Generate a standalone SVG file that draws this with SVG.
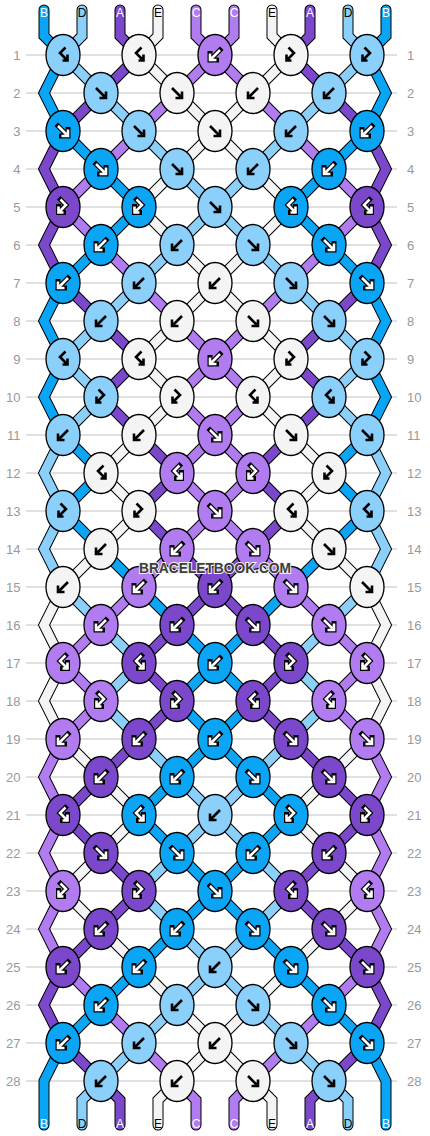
<svg xmlns="http://www.w3.org/2000/svg" xmlns:xlink="http://www.w3.org/1999/xlink" width="430" height="1136" viewBox="0 0 430 1136">
<style>
.ln{stroke:#c2c2c2;stroke-width:1}
.num{font-family:"Liberation Sans",Arial,sans-serif;font-size:13px;fill:#999}
.nl{text-anchor:end}
.lb{font-family:"Liberation Sans",Arial,sans-serif;font-size:12px;text-anchor:middle}
.lw{fill:#fff}.lk{fill:#000}
.o{fill:none;stroke:#000;stroke-width:11;stroke-linecap:round;stroke-linejoin:miter}
.c{fill:none;stroke-width:9;stroke-linecap:round;stroke-linejoin:miter}
.cB{stroke:#0aa5f5}.cD{stroke:#8bd0fa}.cA{stroke:#7b48cc}.cE{stroke:#f4f4f4}.cC{stroke:#b07cf0}
ellipse{stroke:#000;stroke-width:1.3}
.fB{fill:#0aa5f5}.fD{fill:#8bd0fa}.fA{fill:#7b48cc}.fE{fill:#f4f4f4}.fC{fill:#b07cf0}
.ab{fill:none;stroke:#000;stroke-width:2.6}
.ao{fill:none;stroke:#000;stroke-width:5;stroke-linecap:square}
.aw{fill:none;stroke:#fff;stroke-width:2.6}
.wm{font-family:"Liberation Sans",Arial,sans-serif;font-weight:bold;font-size:14px;fill:#3d3d3d;stroke:#f2f2f2;stroke-width:2;paint-order:stroke;text-anchor:middle}
</style>
<defs>
<path id="pF" d="M-5,-5L3.5,3.5M-1.5,5H5V-1.5"/>
<path id="pB" d="M5,-5L-3.5,3.5M1.5,5H-5V-1.5"/>
<path id="pFB" d="M-2.5,-7.5L3,-2L-3.5,4.5M-4.5,-0.5V5.5H0.5"/>
<path id="pBF" d="M2.5,-7.5L-3,-2L3.5,4.5M4.5,-0.5V5.5H-0.5"/>
<g id="bF" class="ab"><use href="#pF"/></g>
<g id="bB" class="ab"><use href="#pB"/></g>
<g id="bFB" class="ab"><use href="#pFB"/></g>
<g id="bBF" class="ab"><use href="#pBF"/></g>
<g id="wF"><use href="#pF" class="ao"/><use href="#pF" class="aw"/></g>
<g id="wB"><use href="#pB" class="ao"/><use href="#pB" class="aw"/></g>
<g id="wFB"><use href="#pFB" class="ao"/><use href="#pFB" class="aw"/></g>
<g id="wBF"><use href="#pBF" class="ao"/><use href="#pBF" class="aw"/></g>
<path id="s0" d="M44,10V36L63,55L44,93L63,131L101,169L139,207L101,245L63,283L44,321L63,359L44,397L63,435L101,473L63,511L101,549L139,587L177,625L215,663L253,701L215,739L177,777L139,815L177,853L215,891L253,929L291,967L329,1005L367,1043L386,1081V1125"/>
<path id="s9" d="M386,10V36L367,55L386,93L367,131L329,169L291,207L329,245L367,283L386,321L367,359L386,397L367,435L329,473L367,511L329,549L291,587L253,625L215,663L177,701L215,739L253,777L291,815L253,853L215,891L177,929L139,967L101,1005L63,1043L44,1081V1125"/>
<path id="s1" d="M82,10V36L63,55L101,93L139,131L177,169L215,207L253,245L291,283L329,321L367,359L329,397L367,435L386,473L367,511L386,549L367,587L329,625L291,663L329,701L291,739L253,777L215,815L177,853L139,891L177,929L215,967L253,1005L291,1043L329,1081L348,1100V1125"/>
<path id="s8" d="M348,10V36L367,55L329,93L291,131L253,169L215,207L177,245L139,283L101,321L63,359L101,397L63,435L44,473L63,511L44,549L63,587L101,625L139,663L101,701L139,739L177,777L215,815L253,853L291,891L253,929L215,967L177,1005L139,1043L101,1081L82,1100V1125"/>
<path id="s2" d="M120,10V36L139,55L101,93L63,131L44,169L63,207L44,245L63,283L101,321L139,359L101,397L139,435L177,473L139,511L177,549L215,587L253,625L291,663L253,701L291,739L329,777L367,815L329,853L291,891L329,929L367,967L386,1005L367,1043L329,1081L310,1100V1125"/>
<path id="s7" d="M310,10V36L291,55L329,93L367,131L386,169L367,207L386,245L367,283L329,321L291,359L329,397L291,435L253,473L291,511L253,549L215,587L177,625L139,663L177,701L139,739L101,777L63,815L101,853L139,891L101,929L63,967L44,1005L63,1043L101,1081L120,1100V1125"/>
<path id="s3" d="M158,10V36L139,55L177,93L215,131L253,169L291,207L253,245L215,283L177,321L139,359L177,397L139,435L101,473L139,511L101,549L63,587L44,625L63,663L44,701L63,739L101,777L139,815L101,853L63,891L101,929L139,967L177,1005L215,1043L253,1081L272,1100V1125"/>
<path id="s6" d="M272,10V36L291,55L253,93L215,131L177,169L139,207L177,245L215,283L253,321L291,359L253,397L291,435L329,473L291,511L329,549L367,587L386,625L367,663L386,701L367,739L329,777L291,815L329,853L367,891L329,929L291,967L253,1005L215,1043L177,1081L158,1100V1125"/>
<path id="s4" d="M196,10V36L215,55L253,93L291,131L329,169L367,207L329,245L291,283L253,321L215,359L177,397L215,435L253,473L215,511L177,549L139,587L101,625L63,663L101,701L63,739L44,777L63,815L44,853L63,891L44,929L63,967L101,1005L139,1043L177,1081L196,1100V1125"/>
<path id="s5" d="M234,10V36L215,55L177,93L139,131L101,169L63,207L101,245L139,283L177,321L215,359L253,397L215,435L177,473L215,511L253,549L291,587L329,625L367,663L329,701L367,739L386,777L367,815L386,853L367,891L386,929L367,967L329,1005L291,1043L253,1081L234,1100V1125"/>
</defs>
<rect width="430" height="1136" fill="#fff"/>
<g id="rows">
<path class="ln" d="M26,55H397M26,93H397M26,131H397M26,169H397M26,207H397M26,245H397M26,283H397M26,321H397M26,359H397M26,397H397M26,435H397M26,473H397M26,511H397M26,549H397M26,587H397M26,625H397M26,663H397M26,701H397M26,739H397M26,777H397M26,815H397M26,853H397M26,891H397M26,929H397M26,967H397M26,1005H397M26,1043H397M26,1081H397"/>
<g class="num nl">
<text x="20.5" y="59.5">1</text><text x="20.5" y="97.5">2</text><text x="20.5" y="135.5">3</text><text x="20.5" y="173.5">4</text><text x="20.5" y="211.5">5</text><text x="20.5" y="249.5">6</text><text x="20.5" y="287.5">7</text><text x="20.5" y="325.5">8</text><text x="20.5" y="363.5">9</text><text x="20.5" y="401.5">10</text><text x="20.5" y="439.5">11</text><text x="20.5" y="477.5">12</text><text x="20.5" y="515.5">13</text><text x="20.5" y="553.5">14</text><text x="20.5" y="591.5">15</text><text x="20.5" y="629.5">16</text><text x="20.5" y="667.5">17</text><text x="20.5" y="705.5">18</text><text x="20.5" y="743.5">19</text><text x="20.5" y="781.5">20</text><text x="20.5" y="819.5">21</text><text x="20.5" y="857.5">22</text><text x="20.5" y="895.5">23</text><text x="20.5" y="933.5">24</text><text x="20.5" y="971.5">25</text><text x="20.5" y="1009.5">26</text><text x="20.5" y="1047.5">27</text><text x="20.5" y="1085.5">28</text>
</g>
<g class="num">
<text x="407" y="59.5">1</text><text x="407" y="97.5">2</text><text x="407" y="135.5">3</text><text x="407" y="173.5">4</text><text x="407" y="211.5">5</text><text x="407" y="249.5">6</text><text x="407" y="287.5">7</text><text x="407" y="325.5">8</text><text x="407" y="363.5">9</text><text x="407" y="401.5">10</text><text x="407" y="439.5">11</text><text x="407" y="477.5">12</text><text x="407" y="515.5">13</text><text x="407" y="553.5">14</text><text x="407" y="591.5">15</text><text x="407" y="629.5">16</text><text x="407" y="667.5">17</text><text x="407" y="705.5">18</text><text x="407" y="743.5">19</text><text x="407" y="781.5">20</text><text x="407" y="819.5">21</text><text x="407" y="857.5">22</text><text x="407" y="895.5">23</text><text x="407" y="933.5">24</text><text x="407" y="971.5">25</text><text x="407" y="1009.5">26</text><text x="407" y="1047.5">27</text><text x="407" y="1085.5">28</text>
</g>
</g>
<g id="connectors">
<use href="#s0" class="o"/><use href="#s1" class="o"/><use href="#s2" class="o"/><use href="#s3" class="o"/><use href="#s4" class="o"/><use href="#s5" class="o"/><use href="#s6" class="o"/><use href="#s7" class="o"/><use href="#s8" class="o"/><use href="#s9" class="o"/>
<use href="#s0" class="c cB"/><use href="#s9" class="c cB"/><use href="#s1" class="c cD"/><use href="#s8" class="c cD"/><use href="#s2" class="c cA"/><use href="#s7" class="c cA"/><use href="#s3" class="c cE"/><use href="#s6" class="c cE"/><use href="#s4" class="c cC"/><use href="#s5" class="c cC"/>
</g>
<g id="labels-top" class="lb">
<text x="44" y="16.6" class="lw">B</text><text x="82" y="16.6" class="lk">D</text><text x="120" y="16.6" class="lw">A</text><text x="158" y="16.6" class="lk">E</text><text x="196" y="16.6" class="lw">C</text><text x="234" y="16.6" class="lw">C</text><text x="272" y="16.6" class="lk">E</text><text x="310" y="16.6" class="lw">A</text><text x="348" y="16.6" class="lk">D</text><text x="386" y="16.6" class="lw">B</text>
</g>
<g id="labels-bottom" class="lb">
<text x="44" y="1128.3" class="lw">B</text><text x="82" y="1128.3" class="lk">D</text><text x="120" y="1128.3" class="lw">A</text><text x="158" y="1128.3" class="lk">E</text><text x="196" y="1128.3" class="lw">C</text><text x="234" y="1128.3" class="lw">C</text><text x="272" y="1128.3" class="lk">E</text><text x="310" y="1128.3" class="lw">A</text><text x="348" y="1128.3" class="lk">D</text><text x="386" y="1128.3" class="lw">B</text>
</g>
<g id="knots">
<g id="k1-1"><ellipse class="fD" cx="63" cy="55" rx="17" ry="20.5"/><use href="#bBF" x="63" y="55"/></g>
<g id="k1-2"><ellipse class="fE" cx="139" cy="55" rx="17" ry="20.5"/><use href="#bBF" x="139" y="55"/></g>
<g id="k1-3"><ellipse class="fC" cx="215" cy="55" rx="17" ry="20.5"/><use href="#wB" x="215" y="55"/></g>
<g id="k1-4"><ellipse class="fE" cx="291" cy="55" rx="17" ry="20.5"/><use href="#bFB" x="291" y="55"/></g>
<g id="k1-5"><ellipse class="fD" cx="367" cy="55" rx="17" ry="20.5"/><use href="#bFB" x="367" y="55"/></g>
<g id="k2-1"><ellipse class="fD" cx="101" cy="93" rx="17" ry="20.5"/><use href="#bF" x="101" y="93"/></g>
<g id="k2-2"><ellipse class="fE" cx="177" cy="93" rx="17" ry="20.5"/><use href="#bF" x="177" y="93"/></g>
<g id="k2-3"><ellipse class="fE" cx="253" cy="93" rx="17" ry="20.5"/><use href="#bB" x="253" y="93"/></g>
<g id="k2-4"><ellipse class="fD" cx="329" cy="93" rx="17" ry="20.5"/><use href="#bB" x="329" y="93"/></g>
<g id="k3-1"><ellipse class="fB" cx="63" cy="131" rx="17" ry="20.5"/><use href="#wF" x="63" y="131"/></g>
<g id="k3-2"><ellipse class="fD" cx="139" cy="131" rx="17" ry="20.5"/><use href="#bF" x="139" y="131"/></g>
<g id="k3-3"><ellipse class="fE" cx="215" cy="131" rx="17" ry="20.5"/><use href="#bF" x="215" y="131"/></g>
<g id="k3-4"><ellipse class="fD" cx="291" cy="131" rx="17" ry="20.5"/><use href="#bB" x="291" y="131"/></g>
<g id="k3-5"><ellipse class="fB" cx="367" cy="131" rx="17" ry="20.5"/><use href="#wB" x="367" y="131"/></g>
<g id="k4-1"><ellipse class="fB" cx="101" cy="169" rx="17" ry="20.5"/><use href="#wF" x="101" y="169"/></g>
<g id="k4-2"><ellipse class="fD" cx="177" cy="169" rx="17" ry="20.5"/><use href="#bF" x="177" y="169"/></g>
<g id="k4-3"><ellipse class="fD" cx="253" cy="169" rx="17" ry="20.5"/><use href="#bB" x="253" y="169"/></g>
<g id="k4-4"><ellipse class="fB" cx="329" cy="169" rx="17" ry="20.5"/><use href="#wB" x="329" y="169"/></g>
<g id="k5-1"><ellipse class="fA" cx="63" cy="207" rx="17" ry="20.5"/><use href="#wFB" x="63" y="207"/></g>
<g id="k5-2"><ellipse class="fB" cx="139" cy="207" rx="17" ry="20.5"/><use href="#wFB" x="139" y="207"/></g>
<g id="k5-3"><ellipse class="fD" cx="215" cy="207" rx="17" ry="20.5"/><use href="#bF" x="215" y="207"/></g>
<g id="k5-4"><ellipse class="fB" cx="291" cy="207" rx="17" ry="20.5"/><use href="#wBF" x="291" y="207"/></g>
<g id="k5-5"><ellipse class="fA" cx="367" cy="207" rx="17" ry="20.5"/><use href="#wBF" x="367" y="207"/></g>
<g id="k6-1"><ellipse class="fB" cx="101" cy="245" rx="17" ry="20.5"/><use href="#wB" x="101" y="245"/></g>
<g id="k6-2"><ellipse class="fD" cx="177" cy="245" rx="17" ry="20.5"/><use href="#bB" x="177" y="245"/></g>
<g id="k6-3"><ellipse class="fD" cx="253" cy="245" rx="17" ry="20.5"/><use href="#bF" x="253" y="245"/></g>
<g id="k6-4"><ellipse class="fB" cx="329" cy="245" rx="17" ry="20.5"/><use href="#wF" x="329" y="245"/></g>
<g id="k7-1"><ellipse class="fB" cx="63" cy="283" rx="17" ry="20.5"/><use href="#wB" x="63" y="283"/></g>
<g id="k7-2"><ellipse class="fD" cx="139" cy="283" rx="17" ry="20.5"/><use href="#bB" x="139" y="283"/></g>
<g id="k7-3"><ellipse class="fE" cx="215" cy="283" rx="17" ry="20.5"/><use href="#bB" x="215" y="283"/></g>
<g id="k7-4"><ellipse class="fD" cx="291" cy="283" rx="17" ry="20.5"/><use href="#bF" x="291" y="283"/></g>
<g id="k7-5"><ellipse class="fB" cx="367" cy="283" rx="17" ry="20.5"/><use href="#wF" x="367" y="283"/></g>
<g id="k8-1"><ellipse class="fD" cx="101" cy="321" rx="17" ry="20.5"/><use href="#bB" x="101" y="321"/></g>
<g id="k8-2"><ellipse class="fE" cx="177" cy="321" rx="17" ry="20.5"/><use href="#bB" x="177" y="321"/></g>
<g id="k8-3"><ellipse class="fE" cx="253" cy="321" rx="17" ry="20.5"/><use href="#bF" x="253" y="321"/></g>
<g id="k8-4"><ellipse class="fD" cx="329" cy="321" rx="17" ry="20.5"/><use href="#bF" x="329" y="321"/></g>
<g id="k9-1"><ellipse class="fD" cx="63" cy="359" rx="17" ry="20.5"/><use href="#bBF" x="63" y="359"/></g>
<g id="k9-2"><ellipse class="fE" cx="139" cy="359" rx="17" ry="20.5"/><use href="#bBF" x="139" y="359"/></g>
<g id="k9-3"><ellipse class="fC" cx="215" cy="359" rx="17" ry="20.5"/><use href="#wB" x="215" y="359"/></g>
<g id="k9-4"><ellipse class="fE" cx="291" cy="359" rx="17" ry="20.5"/><use href="#bFB" x="291" y="359"/></g>
<g id="k9-5"><ellipse class="fD" cx="367" cy="359" rx="17" ry="20.5"/><use href="#bFB" x="367" y="359"/></g>
<g id="k10-1"><ellipse class="fD" cx="101" cy="397" rx="17" ry="20.5"/><use href="#bFB" x="101" y="397"/></g>
<g id="k10-2"><ellipse class="fE" cx="177" cy="397" rx="17" ry="20.5"/><use href="#bFB" x="177" y="397"/></g>
<g id="k10-3"><ellipse class="fE" cx="253" cy="397" rx="17" ry="20.5"/><use href="#bBF" x="253" y="397"/></g>
<g id="k10-4"><ellipse class="fD" cx="329" cy="397" rx="17" ry="20.5"/><use href="#bBF" x="329" y="397"/></g>
<g id="k11-1"><ellipse class="fD" cx="63" cy="435" rx="17" ry="20.5"/><use href="#bB" x="63" y="435"/></g>
<g id="k11-2"><ellipse class="fE" cx="139" cy="435" rx="17" ry="20.5"/><use href="#bB" x="139" y="435"/></g>
<g id="k11-3"><ellipse class="fC" cx="215" cy="435" rx="17" ry="20.5"/><use href="#wF" x="215" y="435"/></g>
<g id="k11-4"><ellipse class="fE" cx="291" cy="435" rx="17" ry="20.5"/><use href="#bF" x="291" y="435"/></g>
<g id="k11-5"><ellipse class="fD" cx="367" cy="435" rx="17" ry="20.5"/><use href="#bF" x="367" y="435"/></g>
<g id="k12-1"><ellipse class="fE" cx="101" cy="473" rx="17" ry="20.5"/><use href="#bBF" x="101" y="473"/></g>
<g id="k12-2"><ellipse class="fC" cx="177" cy="473" rx="17" ry="20.5"/><use href="#wBF" x="177" y="473"/></g>
<g id="k12-3"><ellipse class="fC" cx="253" cy="473" rx="17" ry="20.5"/><use href="#wFB" x="253" y="473"/></g>
<g id="k12-4"><ellipse class="fE" cx="329" cy="473" rx="17" ry="20.5"/><use href="#bFB" x="329" y="473"/></g>
<g id="k13-1"><ellipse class="fD" cx="63" cy="511" rx="17" ry="20.5"/><use href="#bFB" x="63" y="511"/></g>
<g id="k13-2"><ellipse class="fE" cx="139" cy="511" rx="17" ry="20.5"/><use href="#bFB" x="139" y="511"/></g>
<g id="k13-3"><ellipse class="fC" cx="215" cy="511" rx="17" ry="20.5"/><use href="#wF" x="215" y="511"/></g>
<g id="k13-4"><ellipse class="fE" cx="291" cy="511" rx="17" ry="20.5"/><use href="#bBF" x="291" y="511"/></g>
<g id="k13-5"><ellipse class="fD" cx="367" cy="511" rx="17" ry="20.5"/><use href="#bBF" x="367" y="511"/></g>
<g id="k14-1"><ellipse class="fE" cx="101" cy="549" rx="17" ry="20.5"/><use href="#bB" x="101" y="549"/></g>
<g id="k14-2"><ellipse class="fC" cx="177" cy="549" rx="17" ry="20.5"/><use href="#wB" x="177" y="549"/></g>
<g id="k14-3"><ellipse class="fC" cx="253" cy="549" rx="17" ry="20.5"/><use href="#wF" x="253" y="549"/></g>
<g id="k14-4"><ellipse class="fE" cx="329" cy="549" rx="17" ry="20.5"/><use href="#bF" x="329" y="549"/></g>
<g id="k15-1"><ellipse class="fE" cx="63" cy="587" rx="17" ry="20.5"/><use href="#bB" x="63" y="587"/></g>
<g id="k15-2"><ellipse class="fC" cx="139" cy="587" rx="17" ry="20.5"/><use href="#wB" x="139" y="587"/></g>
<g id="k15-3"><ellipse class="fA" cx="215" cy="587" rx="17" ry="20.5"/><use href="#wB" x="215" y="587"/></g>
<g id="k15-4"><ellipse class="fC" cx="291" cy="587" rx="17" ry="20.5"/><use href="#wF" x="291" y="587"/></g>
<g id="k15-5"><ellipse class="fE" cx="367" cy="587" rx="17" ry="20.5"/><use href="#bF" x="367" y="587"/></g>
<g id="k16-1"><ellipse class="fC" cx="101" cy="625" rx="17" ry="20.5"/><use href="#wB" x="101" y="625"/></g>
<g id="k16-2"><ellipse class="fA" cx="177" cy="625" rx="17" ry="20.5"/><use href="#wB" x="177" y="625"/></g>
<g id="k16-3"><ellipse class="fA" cx="253" cy="625" rx="17" ry="20.5"/><use href="#wF" x="253" y="625"/></g>
<g id="k16-4"><ellipse class="fC" cx="329" cy="625" rx="17" ry="20.5"/><use href="#wF" x="329" y="625"/></g>
<g id="k17-1"><ellipse class="fC" cx="63" cy="663" rx="17" ry="20.5"/><use href="#wBF" x="63" y="663"/></g>
<g id="k17-2"><ellipse class="fA" cx="139" cy="663" rx="17" ry="20.5"/><use href="#wBF" x="139" y="663"/></g>
<g id="k17-3"><ellipse class="fB" cx="215" cy="663" rx="17" ry="20.5"/><use href="#wB" x="215" y="663"/></g>
<g id="k17-4"><ellipse class="fA" cx="291" cy="663" rx="17" ry="20.5"/><use href="#wFB" x="291" y="663"/></g>
<g id="k17-5"><ellipse class="fC" cx="367" cy="663" rx="17" ry="20.5"/><use href="#wFB" x="367" y="663"/></g>
<g id="k18-1"><ellipse class="fC" cx="101" cy="701" rx="17" ry="20.5"/><use href="#wFB" x="101" y="701"/></g>
<g id="k18-2"><ellipse class="fA" cx="177" cy="701" rx="17" ry="20.5"/><use href="#wFB" x="177" y="701"/></g>
<g id="k18-3"><ellipse class="fA" cx="253" cy="701" rx="17" ry="20.5"/><use href="#wBF" x="253" y="701"/></g>
<g id="k18-4"><ellipse class="fC" cx="329" cy="701" rx="17" ry="20.5"/><use href="#wBF" x="329" y="701"/></g>
<g id="k19-1"><ellipse class="fC" cx="63" cy="739" rx="17" ry="20.5"/><use href="#wB" x="63" y="739"/></g>
<g id="k19-2"><ellipse class="fA" cx="139" cy="739" rx="17" ry="20.5"/><use href="#wB" x="139" y="739"/></g>
<g id="k19-3"><ellipse class="fB" cx="215" cy="739" rx="17" ry="20.5"/><use href="#wB" x="215" y="739"/></g>
<g id="k19-4"><ellipse class="fA" cx="291" cy="739" rx="17" ry="20.5"/><use href="#wF" x="291" y="739"/></g>
<g id="k19-5"><ellipse class="fC" cx="367" cy="739" rx="17" ry="20.5"/><use href="#wF" x="367" y="739"/></g>
<g id="k20-1"><ellipse class="fA" cx="101" cy="777" rx="17" ry="20.5"/><use href="#wB" x="101" y="777"/></g>
<g id="k20-2"><ellipse class="fB" cx="177" cy="777" rx="17" ry="20.5"/><use href="#wB" x="177" y="777"/></g>
<g id="k20-3"><ellipse class="fB" cx="253" cy="777" rx="17" ry="20.5"/><use href="#wF" x="253" y="777"/></g>
<g id="k20-4"><ellipse class="fA" cx="329" cy="777" rx="17" ry="20.5"/><use href="#wF" x="329" y="777"/></g>
<g id="k21-1"><ellipse class="fA" cx="63" cy="815" rx="17" ry="20.5"/><use href="#wBF" x="63" y="815"/></g>
<g id="k21-2"><ellipse class="fB" cx="139" cy="815" rx="17" ry="20.5"/><use href="#wBF" x="139" y="815"/></g>
<g id="k21-3"><ellipse class="fD" cx="215" cy="815" rx="17" ry="20.5"/><use href="#bB" x="215" y="815"/></g>
<g id="k21-4"><ellipse class="fB" cx="291" cy="815" rx="17" ry="20.5"/><use href="#wFB" x="291" y="815"/></g>
<g id="k21-5"><ellipse class="fA" cx="367" cy="815" rx="17" ry="20.5"/><use href="#wFB" x="367" y="815"/></g>
<g id="k22-1"><ellipse class="fA" cx="101" cy="853" rx="17" ry="20.5"/><use href="#wF" x="101" y="853"/></g>
<g id="k22-2"><ellipse class="fB" cx="177" cy="853" rx="17" ry="20.5"/><use href="#wF" x="177" y="853"/></g>
<g id="k22-3"><ellipse class="fB" cx="253" cy="853" rx="17" ry="20.5"/><use href="#wB" x="253" y="853"/></g>
<g id="k22-4"><ellipse class="fA" cx="329" cy="853" rx="17" ry="20.5"/><use href="#wB" x="329" y="853"/></g>
<g id="k23-1"><ellipse class="fC" cx="63" cy="891" rx="17" ry="20.5"/><use href="#wFB" x="63" y="891"/></g>
<g id="k23-2"><ellipse class="fA" cx="139" cy="891" rx="17" ry="20.5"/><use href="#wFB" x="139" y="891"/></g>
<g id="k23-3"><ellipse class="fB" cx="215" cy="891" rx="17" ry="20.5"/><use href="#wF" x="215" y="891"/></g>
<g id="k23-4"><ellipse class="fA" cx="291" cy="891" rx="17" ry="20.5"/><use href="#wBF" x="291" y="891"/></g>
<g id="k23-5"><ellipse class="fC" cx="367" cy="891" rx="17" ry="20.5"/><use href="#wBF" x="367" y="891"/></g>
<g id="k24-1"><ellipse class="fA" cx="101" cy="929" rx="17" ry="20.5"/><use href="#wB" x="101" y="929"/></g>
<g id="k24-2"><ellipse class="fB" cx="177" cy="929" rx="17" ry="20.5"/><use href="#wB" x="177" y="929"/></g>
<g id="k24-3"><ellipse class="fB" cx="253" cy="929" rx="17" ry="20.5"/><use href="#wF" x="253" y="929"/></g>
<g id="k24-4"><ellipse class="fA" cx="329" cy="929" rx="17" ry="20.5"/><use href="#wF" x="329" y="929"/></g>
<g id="k25-1"><ellipse class="fA" cx="63" cy="967" rx="17" ry="20.5"/><use href="#wB" x="63" y="967"/></g>
<g id="k25-2"><ellipse class="fB" cx="139" cy="967" rx="17" ry="20.5"/><use href="#wB" x="139" y="967"/></g>
<g id="k25-3"><ellipse class="fD" cx="215" cy="967" rx="17" ry="20.5"/><use href="#bB" x="215" y="967"/></g>
<g id="k25-4"><ellipse class="fB" cx="291" cy="967" rx="17" ry="20.5"/><use href="#wF" x="291" y="967"/></g>
<g id="k25-5"><ellipse class="fA" cx="367" cy="967" rx="17" ry="20.5"/><use href="#wF" x="367" y="967"/></g>
<g id="k26-1"><ellipse class="fB" cx="101" cy="1005" rx="17" ry="20.5"/><use href="#wB" x="101" y="1005"/></g>
<g id="k26-2"><ellipse class="fD" cx="177" cy="1005" rx="17" ry="20.5"/><use href="#bB" x="177" y="1005"/></g>
<g id="k26-3"><ellipse class="fD" cx="253" cy="1005" rx="17" ry="20.5"/><use href="#bF" x="253" y="1005"/></g>
<g id="k26-4"><ellipse class="fB" cx="329" cy="1005" rx="17" ry="20.5"/><use href="#wF" x="329" y="1005"/></g>
<g id="k27-1"><ellipse class="fB" cx="63" cy="1043" rx="17" ry="20.5"/><use href="#wB" x="63" y="1043"/></g>
<g id="k27-2"><ellipse class="fD" cx="139" cy="1043" rx="17" ry="20.5"/><use href="#bB" x="139" y="1043"/></g>
<g id="k27-3"><ellipse class="fE" cx="215" cy="1043" rx="17" ry="20.5"/><use href="#bB" x="215" y="1043"/></g>
<g id="k27-4"><ellipse class="fD" cx="291" cy="1043" rx="17" ry="20.5"/><use href="#bF" x="291" y="1043"/></g>
<g id="k27-5"><ellipse class="fB" cx="367" cy="1043" rx="17" ry="20.5"/><use href="#wF" x="367" y="1043"/></g>
<g id="k28-1"><ellipse class="fD" cx="101" cy="1081" rx="17" ry="20.5"/><use href="#bB" x="101" y="1081"/></g>
<g id="k28-2"><ellipse class="fE" cx="177" cy="1081" rx="17" ry="20.5"/><use href="#bB" x="177" y="1081"/></g>
<g id="k28-3"><ellipse class="fE" cx="253" cy="1081" rx="17" ry="20.5"/><use href="#bF" x="253" y="1081"/></g>
<g id="k28-4"><ellipse class="fD" cx="329" cy="1081" rx="17" ry="20.5"/><use href="#bF" x="329" y="1081"/></g>
</g>
<text id="watermark" class="wm" x="215" y="573" textLength="152" lengthAdjust="spacingAndGlyphs">BRACELETBOOK.COM</text>
</svg>
